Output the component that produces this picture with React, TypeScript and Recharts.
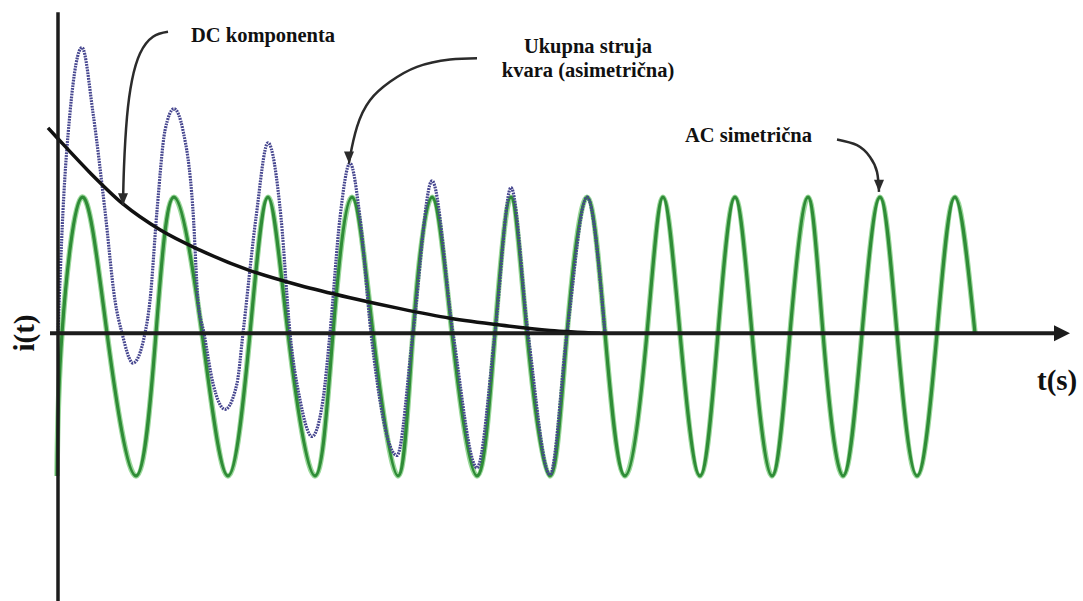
import React from "react";
import { LineChart, Line, XAxis, YAxis, ReferenceLine } from "recharts";

const W = 1083;
const H = 601;

// AC symmetrična: troughs, zero crossings and peaks
const acTime = [
  -1, 4, 24, 49, 78, 98, 116, 144, 170, 192, 210, 230, 257, 275, 294, 315, 340, 355, 374, 394,
  419, 437, 453, 469, 492, 509, 529, 547, 567, 589, 605, 622, 642, 660, 677, 694, 714, 732, 750,
  765, 785, 804, 822, 839, 859, 879, 897, 917,
];
const acValue = [
  -1.05, 0, 1, 0, -1.05, 0, 1, 0, -1.05, 0, 1, 0, -1.05, 0, 1, 0, -1.05, 0, 1, 0, -1.05, 0, 1, 0,
  -1.05, 0, 1, 0, -1.05, 0, 1, 0, -1.05, 0, 1, 0, -1.05, 0, 1, 0, -1.05, 0, 1, 0, -1.05, 0, 1, 0,
];

// ukupna struja kvara (asimetrična)
const totalTime = [
  0, 5, 12, 24, 35, 47, 57, 64, 75, 87, 92, 99, 107, 116, 125, 135, 140, 146, 155, 167, 179, 185,
  198, 210, 223, 232, 242, 254, 265, 272, 282, 292, 302, 313, 339, 355, 374, 395, 419, 437, 453,
  470, 492, 509, 529, 547,
];
const totalValue = [
  0, 0.9, 1.62, 2.1, 1.62, 0.9, 0.24, 0, -0.22, 0, 0.24, 0.9, 1.49, 1.65, 1.49, 0.9, 0.24, 0,
  -0.37, -0.56, -0.37, 0, 0.85, 1.4, 0.85, 0, -0.49, -0.76, -0.49, 0, 0.85, 1.25, 0.85, 0, -0.9,
  0, 1.12, 0, -0.99, 0, 1.07, 0, -1.04, 0, 1.0, 0,
];

// DC komponenta
const dcTime = [-10, 0, 32, 65, 102, 142, 192, 242, 292, 342, 392, 442, 492, 542];
const dcValue = [1.51, 1.43, 1.18, 0.95, 0.76, 0.61, 0.46, 0.35, 0.26, 0.18, 0.11, 0.06, 0.02, 0];

// curved leader arrows of the three labels
const dcArrowTime = [110, 95, 82, 74, 69, 66, 65];
const dcArrowValue = [2.216, 2.18, 2.057, 1.86, 1.59, 1.223, 0.941];
const totalArrowTime = [419, 392, 359, 332, 312, 299, 292, 291];
const totalArrowValue = [2.022, 2.012, 1.958, 1.848, 1.713, 1.517, 1.296, 1.247];
const acArrowTime = [779, 799, 812, 819, 821];
const acArrowValue = [1.424, 1.382, 1.296, 1.186, 1.039];

const labelLines = ["DC komponenta", "Ukupna struja", "kvara (asimetrična)", "AC simetrična"];

const zip = (t: number[], v: number[]) => t.map((x, i) => ({ t: x, v: v[i] }));

const acData = zip(acTime, acValue);
const totalData = zip(totalTime, totalValue);
const dcData = zip(dcTime, dcValue);

const arrowHead = (count: number) => (props: any) => {
  const { cx, cy, index } = props;
  if (index !== count - 1) return <g key={`d${index}`} />;
  return (
    <polygon
      key={`d${index}`}
      points={`${cx},${cy} ${cx - 5},${cy - 12} ${cx + 5},${cy - 12}`}
      fill="#2b2b2b"
    />
  );
};

const xAxisShape = (p: any) => (
  <g>
    <line x1={p.x1} y1={p.y1} x2={p.x2 - 8} y2={p.y2} stroke="#1c1c1c" strokeWidth={4} />
    <polygon
      points={`${p.x2},${p.y2} ${p.x2 - 16},${p.y2 - 8} ${p.x2 - 16},${p.y2 + 8}`}
      fill="#1c1c1c"
    />
  </g>
);

const txt: React.CSSProperties = {
  fontFamily: '"Liberation Serif", "DejaVu Serif", serif',
  fontWeight: 700,
  fill: "#111",
};

export default function App() {
  return (
    <div style={{ position: "absolute", left: 0, top: 0, width: W, height: H, background: "#fff" }}>
      <LineChart width={W} height={H} margin={{ top: 0, right: 0, bottom: 0, left: 0 }}>
        <XAxis dataKey="t" type="number" domain={[-58, 1025]} hide allowDataOverflow />
        <YAxis type="number" domain={[-1.97, 2.45]} hide allowDataOverflow />
        <Line
          data={acData}
          dataKey="v"
          type="natural"
          stroke="#9bd89b"
          strokeWidth={5.5}
          dot={false}
          activeDot={false}
          isAnimationActive={false}
        />
        <Line
          data={acData}
          dataKey="v"
          type="natural"
          stroke="#2f8c37"
          strokeWidth={3.2}
          dot={false}
          activeDot={false}
          isAnimationActive={false}
        />
        <Line
          data={totalData}
          dataKey="v"
          type="monotone"
          stroke="#46468f"
          strokeWidth={3.2}
          strokeDasharray="1.8 1"
          dot={false}
          activeDot={false}
          isAnimationActive={false}
        />
        <Line
          data={dcData}
          dataKey="v"
          type="monotone"
          stroke="#111"
          strokeWidth={3.5}
          dot={false}
          activeDot={false}
          isAnimationActive={false}
        />
        <Line
          data={zip(dcArrowTime, dcArrowValue)}
          dataKey="v"
          type="natural"
          stroke="#2b2b2b"
          strokeWidth={2.5}
          dot={arrowHead(dcArrowTime.length)}
          activeDot={false}
          isAnimationActive={false}
        />
        <Line
          data={zip(totalArrowTime, totalArrowValue)}
          dataKey="v"
          type="natural"
          stroke="#2b2b2b"
          strokeWidth={2.5}
          dot={arrowHead(totalArrowTime.length)}
          activeDot={false}
          isAnimationActive={false}
        />
        <Line
          data={zip(acArrowTime, acArrowValue)}
          dataKey="v"
          type="natural"
          stroke="#2b2b2b"
          strokeWidth={2.5}
          dot={arrowHead(acArrowTime.length)}
          activeDot={false}
          isAnimationActive={false}
        />
        <ReferenceLine
          segment={[
            { x: 0, y: 2.36 },
            { x: 0, y: -1.97 },
          ]}
          stroke="#1c1c1c"
          strokeWidth={3.5}
          ifOverflow="visible"
        />
        <ReferenceLine
          segment={[
            { x: -8, y: 0 },
            { x: 1012, y: 0 },
          ]}
          shape={xAxisShape}
          ifOverflow="visible"
        />
      </LineChart>
      <svg
        width={W}
        height={H}
        style={{ position: "absolute", left: 0, top: 0, pointerEvents: "none" }}
      >
        <text x={191} y={42} fontSize={20.5} style={txt}>
          {labelLines[0]}
        </text>
        <text x={588} y={53} fontSize={20.5} textAnchor="middle" style={txt}>
          {labelLines[1]}
        </text>
        <text x={588} y={77} fontSize={20.5} textAnchor="middle" style={txt}>
          {labelLines[2]}
        </text>
        <text x={685} y={142} fontSize={20.5} style={txt}>
          {labelLines[3]}
        </text>
        <text x={1037} y={390} fontSize={29} style={txt}>
          t(s)
        </text>
        <text
          x={0}
          y={0}
          fontSize={29}
          textAnchor="middle"
          transform="translate(34,333) rotate(-90)"
          style={txt}
        >
          i(t)
        </text>
      </svg>
    </div>
  );
}
